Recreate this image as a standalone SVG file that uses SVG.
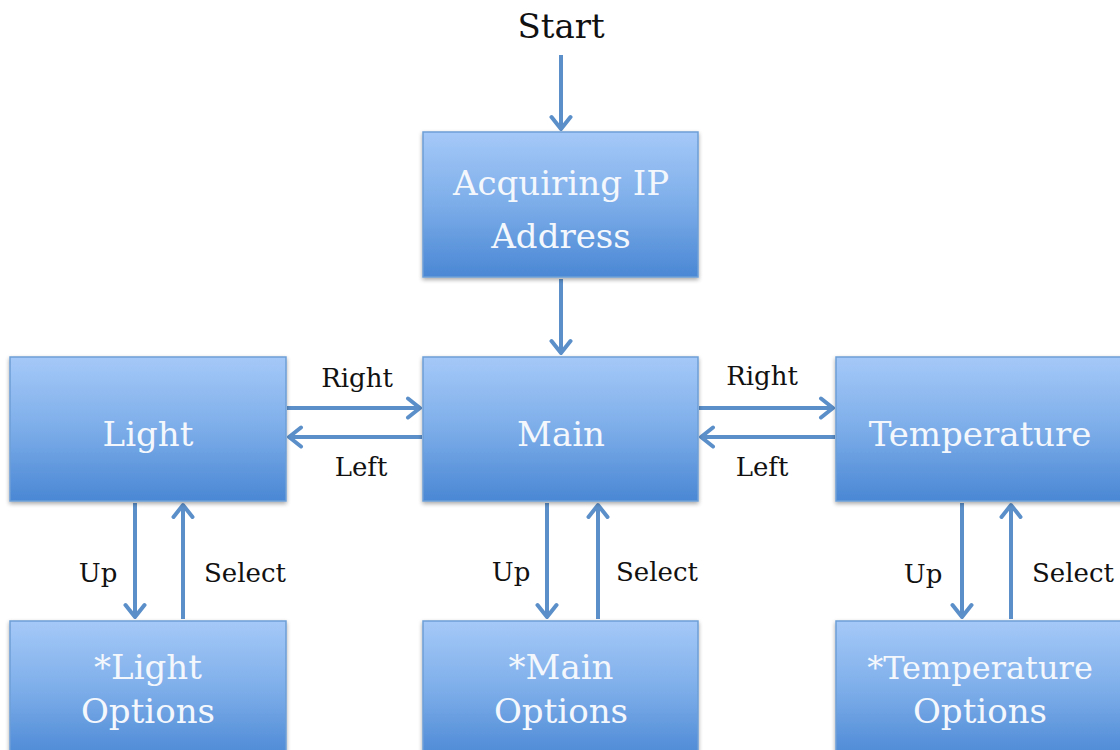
<svg xmlns="http://www.w3.org/2000/svg" width="1120" height="750" viewBox="0 0 1120 750">
  <defs>
    <linearGradient id="boxFill" x1="0" y1="0" x2="0" y2="1">
      <stop offset="0" stop-color="#a5c9f8"/>
      <stop offset="0.5" stop-color="#7cade9"/>
      <stop offset="1" stop-color="#4a87d4"/>
    </linearGradient>
    <filter id="shadow" x="-5%" y="-5%" width="110%" height="115%">
      <feGaussianBlur in="SourceAlpha" stdDeviation="2"/>
      <feOffset dx="0" dy="2" result="b"/>
      <feComponentTransfer><feFuncA type="linear" slope="0.35"/></feComponentTransfer>
      <feMerge><feMergeNode/><feMergeNode in="SourceGraphic"/></feMerge>
    </filter>
    <marker id="arrow" viewBox="0 0 20 24" refX="17" refY="12" markerWidth="20" markerHeight="24" markerUnits="userSpaceOnUse" orient="auto">
      <path d="M5,2.5 L17,12 L5,21.5" fill="none" stroke="#5b8fc9" stroke-width="4" stroke-linecap="round" stroke-linejoin="round"/>
    </marker>
  </defs>
  <style>
    .box { fill: url(#boxFill); stroke: #6d9fd6; stroke-width: 1.5; filter: url(#shadow); }
    .node-text { font-family: "DejaVu Serif", "Liberation Serif", serif; font-size: 34px; fill: #f4f8fd; text-anchor: middle; }
    .node-text.wide { font-size: 32px; }
    .label { font-family: "DejaVu Serif", "Liberation Serif", serif; font-size: 26px; fill: #111; text-anchor: middle; }
    .title { font-family: "DejaVu Serif", "Liberation Serif", serif; font-size: 34px; fill: #111; text-anchor: middle; }
    .conn { stroke: #5b8fc9; stroke-width: 4; fill: none; marker-end: url(#arrow); }
  </style>
  <rect width="1120" height="750" fill="#ffffff"/>

  <text class="title" x="561" y="38">Start</text>

  <!-- connectors -->
  <g id="connectors">
    <line class="conn" x1="561" y1="55" x2="561" y2="129"/>
    <line class="conn" x1="561" y1="279" x2="561" y2="353"/>
    <line class="conn" x1="287" y1="408" x2="420" y2="408"/>
    <line class="conn" x1="422" y1="437" x2="289" y2="437"/>
    <line class="conn" x1="699" y1="408" x2="833" y2="408"/>
    <line class="conn" x1="835" y1="437" x2="701" y2="437"/>
    <line class="conn" x1="135" y1="503" x2="135" y2="617"/>
    <line class="conn" x1="183" y1="619" x2="183" y2="505"/>
    <line class="conn" x1="547" y1="503" x2="547" y2="617"/>
    <line class="conn" x1="598" y1="619" x2="598" y2="505"/>
    <line class="conn" x1="962" y1="503" x2="962" y2="617"/>
    <line class="conn" x1="1011" y1="619" x2="1011" y2="505"/>
    <text class="label" x="357" y="387">Right</text>
    <text class="label" x="361" y="476">Left</text>
    <text class="label" x="762" y="385">Right</text>
    <text class="label" x="762" y="476">Left</text>
    <text class="label" x="98" y="582">Up</text>
    <text class="label" x="245" y="582">Select</text>
    <text class="label" x="511" y="581">Up</text>
    <text class="label" x="657" y="581">Select</text>
    <text class="label" x="923" y="583">Up</text>
    <text class="label" x="1073" y="582">Select</text>
  </g>

  <g id="acquiring">
    <rect class="box" x="423" y="132" width="275" height="145"/>
    <text class="node-text" x="561" y="195">Acquiring IP</text>
    <text class="node-text" x="561" y="248">Address</text>
  </g>
  <g id="light">
    <rect class="box" x="10" y="357" width="276" height="144"/>
    <text class="node-text" x="148" y="446">Light</text>
  </g>
  <g id="main">
    <rect class="box" x="423" y="357" width="275" height="144"/>
    <text class="node-text" x="561" y="446">Main</text>
  </g>
  <g id="temperature">
    <rect class="box" x="836" y="357" width="300" height="144"/>
    <text class="node-text" x="980" y="446">Temperature</text>
  </g>
  <g id="light-options">
    <rect class="box" x="10" y="621" width="276" height="140"/>
    <text class="node-text" x="148" y="679">*Light</text>
    <text class="node-text" x="148" y="723">Options</text>
  </g>
  <g id="main-options">
    <rect class="box" x="423" y="621" width="275" height="140"/>
    <text class="node-text" x="561" y="679">*Main</text>
    <text class="node-text" x="561" y="723">Options</text>
  </g>
  <g id="temperature-options">
    <rect class="box" x="836" y="621" width="300" height="140"/>
    <text class="node-text wide" x="980" y="679">*Temperature</text>
    <text class="node-text" x="980" y="723">Options</text>
  </g>
</svg>
